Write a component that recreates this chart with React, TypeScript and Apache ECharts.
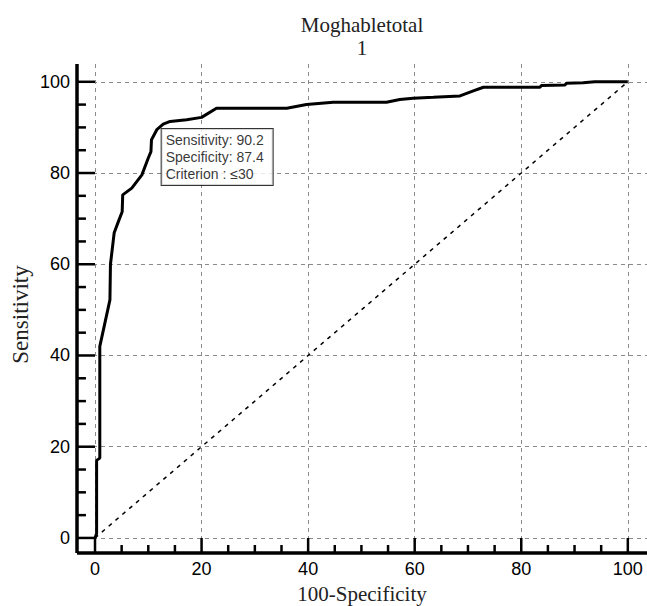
import React, { useEffect, useRef } from "react";
import * as echarts from "echarts";

// ---- data ----
const titleLines = ["Moghabletotal", "1"];
const xName = "100-Specificity";
const yName = "Sensitivity";
const majorTicks = [0, 20, 40, 60, 80, 100];
const minorTicks = [5, 10, 15, 25, 30, 35, 45, 50, 55, 65, 70, 75, 85, 90, 95];

// ROC curve: [100-Specificity, Sensitivity]
const rocPoints: [number, number][] = [
  [0, 0],
  [0.3, 1],
  [0.3, 17],
  [0.9, 17.5],
  [0.9, 30],
  [0.9, 42],
  [2.8, 52.2],
  [2.9, 60],
  [3.6, 66.9],
  [4.4, 69.4],
  [5.1, 71.5],
  [5.2, 75.2],
  [6.9, 76.7],
  [8.8, 79.6],
  [10.0, 83.3],
  [10.5, 84.7],
  [10.6, 87.3],
  [11.6, 89.5],
  [12.8, 90.7],
  [14.1, 91.3],
  [17.2, 91.7],
  [20.0, 92.2],
  [22.8, 94.2],
  [36.0, 94.2],
  [39.7, 95.0],
  [44.7, 95.5],
  [54.7, 95.5],
  [57.2, 96.1],
  [59.7, 96.4],
  [63.5, 96.6],
  [68.5, 96.9],
  [71.0, 98.0],
  [72.9, 98.8],
  [83.5, 98.8],
  [83.8, 99.2],
  [88.2, 99.3],
  [88.5, 99.7],
  [91.6, 99.8],
  [93.8, 100],
  [100, 100],
];

const diagonal: [number, number][] = [
  [0, 0],
  [100, 100],
];

const criterionPoint: [number, number] = [12.6, 90.2];
const criterionLines = ["Sensitivity: 90.2", "Specificity: 87.4", "Criterion : \u226430"];

// ---- layout ----
const X_MIN = -3.38;
const X_MAX = 103.6;
const Y_MIN = -3.3;
const Y_MAX = 103.9;
const X_MINOR_END = -1.55; // ~8px above the x axis line
const Y_MINOR_END = -1.7; // ~9px right of the y axis line

// frame segments: [x1, y1, x2, y2, lineWidth] in data units
function frameSegments(): number[][] {
  return [
    [X_MIN, Y_MIN, X_MAX, Y_MIN, 3.5],
    [X_MIN, Y_MIN, X_MIN, Y_MAX, 3.5],
    ...majorTicks.map((v) => [v, Y_MIN, v, 0, 2.5]),
    ...minorTicks.map((v) => [v, Y_MIN, v, X_MINOR_END, 2.5]),
    ...majorTicks.map((v) => [X_MIN, v, 0, v, 2.5]),
    ...minorTicks.map((v) => [X_MIN, v, Y_MINOR_END, v, 2.5]),
  ];
}

function buildOption(): any {
  const gridLineStyle = () => ({ color: "#8a8a8a", width: 1, type: [4, 4] });
  const labelFont = () => ({ fontFamily: "Liberation Sans", fontSize: 18, color: "#000" });

  return {
    animation: false,
    backgroundColor: "#fff",
    grid: { left: 77, right: 0, top: 64, bottom: 53, containLabel: false, outerBoundsMode: "none" },
    graphic: [
      {
        type: "text",
        x: 362,
        y: 13,
        style: {
          text: titleLines.join("\n"),
          fontFamily: "Liberation Serif",
          fontSize: 21,
          lineHeight: 23,
          fill: "#222",
          align: "center",
          verticalAlign: "top",
        },
      },
    ],
    xAxis: {
      type: "value",
      min: X_MIN,
      max: X_MAX,
      position: "bottom",
      name: xName,
      nameLocation: "middle",
      nameGap: 30,
      nameMoveOverlap: false,
      nameTextStyle: { fontFamily: "Liberation Serif", fontSize: 21, color: "#222" },
      axisLine: { show: false, onZero: false },
      axisTick: { show: false, customValues: majorTicks },
      axisLabel: { show: true, customValues: majorTicks, margin: 7, ...labelFont() },
      splitLine: { show: true, lineStyle: gridLineStyle() },
      minorTick: { show: false },
    },
    yAxis: {
      type: "value",
      min: Y_MIN,
      max: Y_MAX,
      position: "left",
      name: yName,
      nameLocation: "middle",
      nameGap: 45,
      nameRotate: 90,
      nameMoveOverlap: false,
      nameTextStyle: { fontFamily: "Liberation Serif", fontSize: 23, color: "#222", padding: [0, 12, 0, 0] },
      axisLine: { show: false, onZero: false },
      axisTick: { show: false, customValues: majorTicks },
      axisLabel: { show: true, customValues: majorTicks, margin: 7, ...labelFont() },
      splitLine: { show: true, lineStyle: gridLineStyle() },
      minorTick: { show: false },
    },
    series: [
      {
        name: "Frame",
        type: "custom",
        data: frameSegments(),
        encode: { x: [0, 2], y: [1, 3] },
        silent: true,
        clip: false,
        z: 6,
        renderItem: (_params: any, api: any) => {
          const p1 = api.coord([api.value(0), api.value(1)]);
          const p2 = api.coord([api.value(2), api.value(3)]);
          return {
            type: "line",
            shape: { x1: p1[0], y1: p1[1], x2: p2[0], y2: p2[1] },
            style: { stroke: "#000", lineWidth: api.value(4), fill: null },
          };
        },
      },
      {
        name: "Reference",
        type: "line",
        data: diagonal,
        showSymbol: false,
        symbol: "none",
        lineStyle: { color: "#000", width: 1.5, type: [4, 5] },
        silent: true,
        z: 3,
      },
      {
        name: "ROC",
        type: "line",
        data: rocPoints,
        showSymbol: false,
        symbol: "none",
        lineStyle: { color: "#000", width: 3 },
        silent: true,
        z: 4,
      },
      {
        name: "Criterion",
        type: "scatter",
        data: [criterionPoint],
        symbolSize: 1,
        itemStyle: { color: "rgba(0,0,0,0)" },
        silent: true,
        z: 5,
        label: {
          show: true,
          position: [0, 3],
          align: "left",
          verticalAlign: "top",
          formatter: () => criterionLines.join("\n"),
          fontFamily: "Liberation Sans",
          fontSize: 14,
          lineHeight: 17,
          color: "#000",
          backgroundColor: "#fff",
          borderColor: "#000",
          borderWidth: 1,
          padding: [3, 9, 2, 4],
        },
      },
    ],
  };
}

export default function App() {
  const ref = useRef<HTMLDivElement>(null);

  useEffect(() => {
    if (!ref.current) return;
    const chart = echarts.init(ref.current, null, { renderer: "svg" });
    chart.setOption(buildOption());
    return () => chart.dispose();
  }, []);

  return (
    <div style={{ position: "absolute", left: 0, top: 0, width: 647, height: 606 }}>
      <div ref={ref} style={{ width: 647, height: 606, display: "inline-block" }} />
    </div>
  );
}
